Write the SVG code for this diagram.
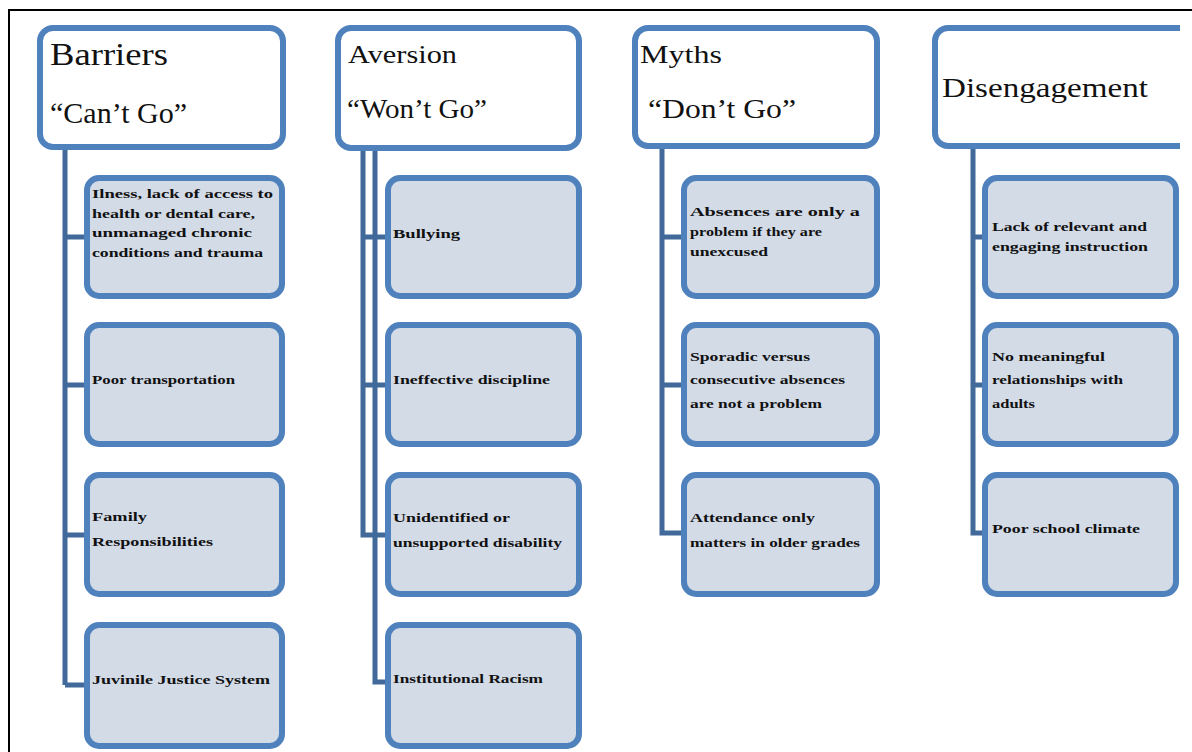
<svg xmlns="http://www.w3.org/2000/svg" width="1192" height="752" viewBox="0 0 1192 752">
<style>
.hdr{fill:#ffffff;stroke:#4f81bd;stroke-width:6}
.box{fill:#d3dbe7;stroke:#4f81bd;stroke-width:6}
.conn{fill:none;stroke:#41699a;stroke-width:5}
.ht{font-family:"Liberation Serif","Times New Roman",serif;fill:#111}
.ct{font-family:"Liberation Serif","Times New Roman",serif;font-size:13px;font-weight:bold;fill:#111}
</style>
<defs><clipPath id="clip"><rect x="0" y="0" width="1180" height="752"/></clipPath></defs>
<rect x="0" y="0" width="1192" height="752" fill="#ffffff"/>
<path d="M9,752 V10 H1192" fill="none" stroke="#000" stroke-width="2"/>
<g id="connectors">
<path class="conn" d="M65,148 V685 M65,237 H86 M65,385 H86 M65,535 H86 M65,685 H86"/>
<path class="conn" d="M363,148 V535 H388 M363,237 H388 M363,385 H388 M375,148 V682 H388"/>
<path class="conn" d="M662,148 V533 H683 M662,237 H683 M662,385 H683"/>
<path class="conn" d="M973,148 V533 H984 M973,237 H984 M973,385 H984"/>
</g>
<g id="barriers">
<rect class="hdr" x="40" y="28" width="243" height="119" rx="13"/>
<text class="ht" x="50" y="65" font-size="32" textLength="118" lengthAdjust="spacingAndGlyphs">Barriers</text>
<text class="ht" x="50" y="123" font-size="30" textLength="137" lengthAdjust="spacingAndGlyphs">“Can’t Go”</text>
</g>
<g id="b1"><rect class="box" x="87" y="178" width="195" height="118" rx="12"/>
<text class="ct" x="92" y="198" textLength="181" lengthAdjust="spacingAndGlyphs">Ilness, lack of access to</text>
<text class="ct" x="92" y="218" textLength="163" lengthAdjust="spacingAndGlyphs">health or dental care,</text>
<text class="ct" x="92" y="237" textLength="160" lengthAdjust="spacingAndGlyphs">unmanaged chronic</text>
<text class="ct" x="92" y="257" textLength="171" lengthAdjust="spacingAndGlyphs">conditions and trauma</text></g>
<g id="b2"><rect class="box" x="87" y="325" width="195" height="119" rx="12"/>
<text class="ct" x="92" y="384" textLength="143" lengthAdjust="spacingAndGlyphs">Poor transportation</text></g>
<g id="b3"><rect class="box" x="87" y="475" width="195" height="119" rx="12"/>
<text class="ct" x="92" y="521" textLength="55" lengthAdjust="spacingAndGlyphs">Family</text>
<text class="ct" x="92" y="546" textLength="121" lengthAdjust="spacingAndGlyphs">Responsibilities</text></g>
<g id="b4"><rect class="box" x="87" y="625" width="195" height="121" rx="12"/>
<text class="ct" x="92" y="684" textLength="178" lengthAdjust="spacingAndGlyphs">Juvinile Justice System</text></g>
<g id="aversion">
<rect class="hdr" x="338" y="28" width="241" height="120" rx="13"/>
<text class="ht" x="348" y="63" font-size="26" textLength="109" lengthAdjust="spacingAndGlyphs">Aversion</text>
<text class="ht" x="347" y="118" font-size="27" textLength="140" lengthAdjust="spacingAndGlyphs">“Won’t Go”</text>
</g>
<g id="a1"><rect class="box" x="388" y="178" width="191" height="118" rx="12"/>
<text class="ct" x="393" y="238" textLength="67" lengthAdjust="spacingAndGlyphs">Bullying</text></g>
<g id="a2"><rect class="box" x="388" y="325" width="191" height="119" rx="12"/>
<text class="ct" x="393" y="384" textLength="157" lengthAdjust="spacingAndGlyphs">Ineffective  discipline</text></g>
<g id="a3"><rect class="box" x="388" y="475" width="191" height="119" rx="12"/>
<text class="ct" x="393" y="522" textLength="117" lengthAdjust="spacingAndGlyphs">Unidentified  or</text>
<text class="ct" x="393" y="547" textLength="169" lengthAdjust="spacingAndGlyphs">unsupported disability</text></g>
<g id="a4"><rect class="box" x="388" y="625" width="191" height="121" rx="12"/>
<text class="ct" x="393" y="683" textLength="150" lengthAdjust="spacingAndGlyphs">Institutional Racism</text></g>
<g id="myths">
<rect class="hdr" x="635" y="28" width="242" height="118" rx="13"/>
<text class="ht" x="640" y="63" font-size="26" textLength="82" lengthAdjust="spacingAndGlyphs">Myths</text>
<text class="ht" x="648" y="118" font-size="27" textLength="148" lengthAdjust="spacingAndGlyphs">“Don’t Go”</text>
</g>
<g id="m1"><rect class="box" x="684" y="178" width="193" height="118" rx="12"/>
<text class="ct" x="690" y="216" textLength="170" lengthAdjust="spacingAndGlyphs">Absences  are  only a</text>
<text class="ct" x="690" y="236" textLength="132" lengthAdjust="spacingAndGlyphs">problem if they are</text>
<text class="ct" x="690" y="256" textLength="78" lengthAdjust="spacingAndGlyphs">unexcused</text></g>
<g id="m2"><rect class="box" x="684" y="325" width="193" height="119" rx="12"/>
<text class="ct" x="690" y="361" textLength="120" lengthAdjust="spacingAndGlyphs">Sporadic  versus</text>
<text class="ct" x="690" y="384" textLength="155" lengthAdjust="spacingAndGlyphs">consecutive absences</text>
<text class="ct" x="690" y="408" textLength="132" lengthAdjust="spacingAndGlyphs">are  not a problem</text></g>
<g id="m3"><rect class="box" x="684" y="475" width="193" height="119" rx="12"/>
<text class="ct" x="690" y="522" textLength="125" lengthAdjust="spacingAndGlyphs">Attendance  only</text>
<text class="ct" x="690" y="547" textLength="170" lengthAdjust="spacingAndGlyphs">matters  in older grades</text></g>
<g id="disengagement" clip-path="url(#clip)">
<rect class="hdr" x="935" y="28" width="270" height="118" rx="13"/>
<text class="ht" x="942" y="97" font-size="28" textLength="206" lengthAdjust="spacingAndGlyphs">Disengagement</text>
</g>
<g id="d1"><rect class="box" x="985" y="178" width="191" height="118" rx="12"/>
<text class="ct" x="992" y="231" textLength="155" lengthAdjust="spacingAndGlyphs">Lack  of relevant  and</text>
<text class="ct" x="992" y="251" textLength="156" lengthAdjust="spacingAndGlyphs">engaging instruction</text></g>
<g id="d2"><rect class="box" x="985" y="325" width="191" height="119" rx="12"/>
<text class="ct" x="992" y="361" textLength="113" lengthAdjust="spacingAndGlyphs">No meaningful</text>
<text class="ct" x="992" y="384" textLength="131" lengthAdjust="spacingAndGlyphs">relationships with</text>
<text class="ct" x="992" y="408" textLength="43" lengthAdjust="spacingAndGlyphs">adults</text></g>
<g id="d3"><rect class="box" x="985" y="475" width="191" height="119" rx="12"/>
<text class="ct" x="992" y="533" textLength="148" lengthAdjust="spacingAndGlyphs">Poor school climate</text></g>
</svg>
